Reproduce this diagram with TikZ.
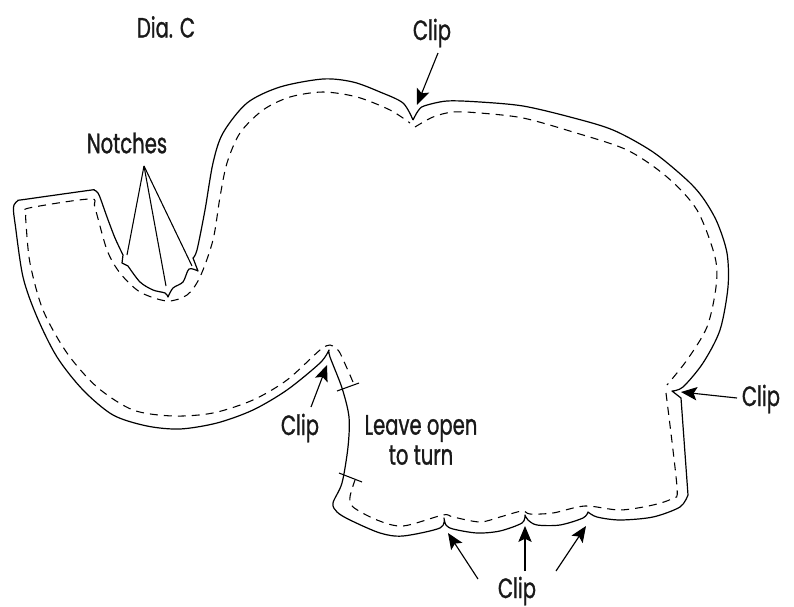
\documentclass[tikz,border=0pt]{standalone}
\usepackage{fontspec}
\setmainfont[FakeStretch=0.7,FakeBold=1]{Poppins}
\usetikzlibrary{arrows.meta}
\tikzset{
  outline/.style={line width=0.9pt,line join=round},
  seam/.style={line width=0.8pt,dash pattern=on 6pt off 4.5pt},
  lbl/.style={inner sep=0pt,font=\fontsize{21}{22.5}\selectfont,text=black!90,align=center},
  cliparrow/.style={line width=0.85pt,-{Stealth[length=12pt,width=10pt,inset=2.5pt]}},
  thinline/.style={line width=0.8pt}
}
\begin{document}
\begin{tikzpicture}[x=0.75pt,y=-0.75pt]
  \useasboundingbox (0,0) rectangle (794,607);
  % cutting line
  \draw[outline] plot[smooth,tension=0.5] coordinates {(413,120)(418,111)(424,106)(447,101)(480,102)(523,106)(570,117)(613,130)(653,152)(687,180)(703,198)(717,222)(727,253)(728,287)(720,330)(703,363)(683,387)(672,391)}
    -- (681,398) -- (688,495)
    -- plot[smooth,tension=0.5] coordinates {(688,495)(680,507)(653,517)(620,520)(597,517)(588,512)}
    -- plot[smooth,tension=0.5] coordinates {(588,512)(583,518)(560,525)(537,525)(528,520)(525,515)}
    -- plot[smooth,tension=0.5] coordinates {(525,515)(522,523)(500,531)(477,533)(453,529)(446,525)(444,518)}
    -- plot[smooth,tension=0.5] coordinates {(444,518)(440,528)(403,536)(380,533)(350,520)(337,512)(333,503)(342,483)(348,447)(349,417)(342,388)(330,357)(329,350)}
    -- plot[smooth,tension=0.5] coordinates {(329,350)(320,363)(287,390)(253,410)(217,423)(180,429)(147,426)(113,415)(83,390)(57,357)(37,317)(23,277)(15,223)(13.5,211)(14,205)(18,200.5)(24,199.5)(88,190.5)(94,190)(98,193)(101,200)(107,217)(115,238)(123,255)}
    -- (122,263)
    -- plot[smooth,tension=0.5] coordinates {(128,266)(140,282)(153,290)(165,293)(168,297)}
    -- plot[smooth,tension=0.5] coordinates {(168,297)(173,288)(183,282)(189,269)(198,271)}
    -- plot[smooth,tension=0.5] coordinates {(193,258)(197,250)(205,210)(213,163)(223,133)(247,103)(280,87)(323,79)(353,82)(380,92)(403,103)(413,120)};
  % stitching line
  \draw[seam] plot[smooth,tension=0.5] coordinates {(353,382)(340,353)(335,348)(330,345)(320,350)(287,380)(253,400)(213,413)(173,416)(133,410)(97,387)(67,353)(43,310)(30,263)(26,223)(26,213)(29,208)(90,199)(95,208)(107,250)(120,273)(140,292)(167,301)(187,295)(200,277)(213,240)(220,197)(227,163)(240,133)(263,110)(290,97)(323,92)(357,97)(390,110)(410,123)};
  \draw[seam] plot[smooth,tension=0.5] coordinates {(415,127)(433,117)(453,112)(480,113)(523,118)(573,132)(627,150)(667,177)(697,210)(715,257)(716,287)(707,327)(687,360)(667,385)};
  \draw[seam] plot[smooth,tension=0.5] coordinates {(666,393)(677,487)(673,498)(653,505)(620,510)(585,506)(553,513)(530,514)(522,511)(500,517)(480,522)(453,517)(443,515)(403,526)(377,520)(353,507)(350,497)(355,480)};
  % labels
  \node[lbl] (diaC) at (166,27) {Dia. C};
  \node[lbl] (clipTop) at (432,33) {Clip};
  \node[lbl] (notchLbl) at (127,143) {Notches};
  \node[lbl] (clipLeft) at (300,428) {Clip};
  \node[lbl] (leaveOpen) at (421,440) {Leave open\\to turn};
  \node[lbl] (clipRight) at (761,399) {Clip};
  \node[lbl] (clipBot) at (517,591) {Clip};
  % clip arrows
  \coordinate (tipTop) at (417,105);
  \coordinate (tipLeft) at (327,365);
  \coordinate (tipRight) at (681,392);
  \coordinate (tipA) at (448,533);
  \coordinate (tipB) at (525,526);
  \coordinate (tipC) at (586,526);
  \coordinate (tailTop) at (438,53);
  \coordinate (tailLeft) at (311,407);
  \coordinate (tailRight) at (737,398);
  \coordinate (tailA) at (478,579);
  \coordinate (tailB) at (525,571);
  \coordinate (tailC) at (556,571);
  \draw[cliparrow] (tailTop) -- (tipTop);
  \draw[cliparrow] (tailLeft) -- (tipLeft);
  \draw[cliparrow] (tailRight) -- (tipRight);
  \draw[cliparrow] (tailA) -- (tipA);
  \draw[cliparrow] (tailB) -- (tipB);
  \draw[cliparrow] (tailC) -- (tipC);
  % notch lines
  \coordinate (notchApex) at (144,166);
  \coordinate (notchA) at (127,255);
  \coordinate (notchB) at (166,286);
  \coordinate (notchC) at (192,266);
  \foreach \n in {notchA,notchB,notchC}
    \draw[thinline] (notchApex) -- (\n);
  % opening marks
  \coordinate (markA) at (337,391);
  \coordinate (markB) at (359,383);
  \coordinate (markC) at (339,473);
  \coordinate (markD) at (362,482);
  \draw[thinline] (markA) -- (markB);
  \draw[thinline] (markC) -- (markD);
\end{tikzpicture}
\end{document}
